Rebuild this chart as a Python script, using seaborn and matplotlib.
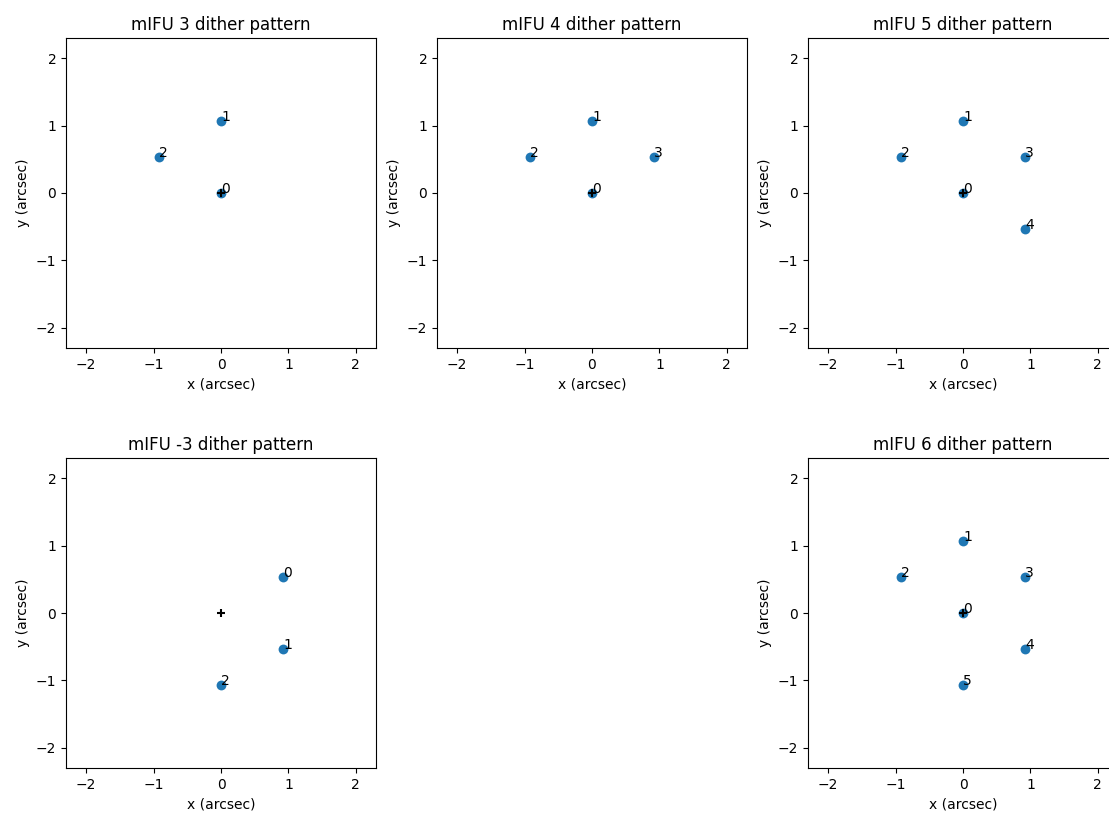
import matplotlib
matplotlib.use('Agg')
import matplotlib.pyplot as plt
import seaborn as sns

# dither offsets (arcsec)
mifu3_x = [0.0, 0.0, -0.925]
mifu3_y = [0.0, 1.07, 0.535]

mifu4_x = [0.0, 0.0, -0.925, 0.925]
mifu4_y = [0.0, 1.07, 0.535, 0.535]

mifu5_x = [0.0, 0.0, -0.925, 0.925, 0.925]
mifu5_y = [0.0, 1.07, 0.535, 0.535, -0.535]

mifum3_x = [0.925, 0.925, 0.0]
mifum3_y = [0.535, -0.535, -1.07]

mifu6_x = [0.0, 0.0, -0.925, 0.925, 0.925, 0.0]
mifu6_y = [0.0, 1.07, 0.535, 0.535, -0.535, -1.07]

patterns = [
    ('3', mifu3_x, mifu3_y),
    ('4', mifu4_x, mifu4_y),
    ('5', mifu5_x, mifu5_y),
    ('-3', mifum3_x, mifum3_y),
    ('6', mifu6_x, mifu6_y),
]

W, H = 1109, 813
fig = plt.figure(figsize=(W / 100, H / 100), dpi=100)

# axes boxes in pixels: left, top
boxes = [(66, 38), (437, 38), (808, 38), (66, 458), (808, 458)]
size = 310

lim = 2.3
for (name, xs, ys), (left, top) in zip(patterns, boxes):
    ax = fig.add_axes([left / W, 1 - (top + size) / H, size / W, size / H])
    sns.scatterplot(x=xs, y=ys, ax=ax, color='C0', s=50, linewidth=0)
    for i, (x, y) in enumerate(zip(xs, ys)):
        ax.annotate(str(i), (x, y))
    ax.scatter([0], [0], marker='+', color='k', s=36, linewidths=1.5, zorder=3)
    ax.set_xlim(-lim, lim)
    ax.set_ylim(-lim, lim)
    ax.set_xticks([-2, -1, 0, 1, 2])
    ax.set_yticks([-2, -1, 0, 1, 2])
    ax.set_xlabel('x (arcsec)')
    ax.set_ylabel('y (arcsec)')
    ax.set_title('mIFU %s dither pattern' % name)

fig.savefig('out.png', dpi=100)
